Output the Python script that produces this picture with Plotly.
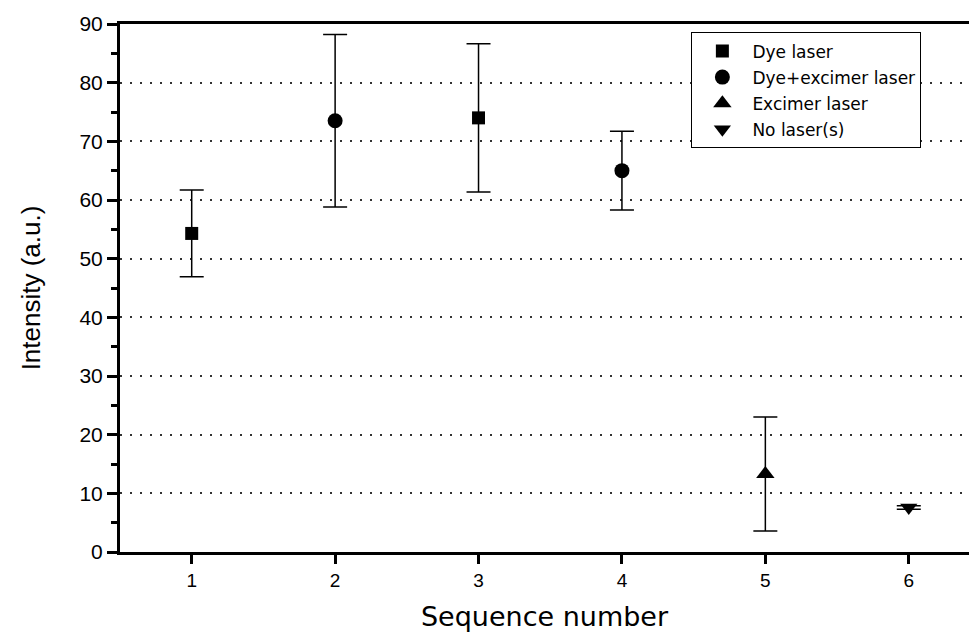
import plotly.graph_objects as go

# Data
seq = [1, 2, 3, 4, 5, 6]
intensity = [54.3, 73.5, 74.0, 65.0, 13.3, 7.6]
err = [7.4, 14.7, 12.65, 6.7, 9.7, 0.3]
condition = ["Dye laser", "Dye+excimer laser", "Dye laser", "Dye+excimer laser",
             "Excimer laser", "No laser(s)"]
series_names = ["Dye laser", "Dye+excimer laser", "Excimer laser", "No laser(s)"]
symbols = {"Dye laser": "square", "Dye+excimer laser": "circle",
           "Excimer laser": "triangle-up", "No laser(s)": "triangle-down"}
sizes = {"Dye laser": 13, "Dye+excimer laser": 15,
         "Excimer laser": 16, "No laser(s)": 15}

y_ticks = list(range(0, 91, 10))

fig = go.Figure()
for name in series_names:
    xs = [s for s, c in zip(seq, condition) if c == name]
    ys = [v for v, c in zip(intensity, condition) if c == name]
    es = [e for e, c in zip(err, condition) if c == name]
    fig.add_trace(go.Scatter(
        x=xs, y=ys, mode="markers", name=name, legendgroup=name,
        marker=dict(symbol=symbols[name], size=sizes[name], color="black"),
        error_y=dict(type="data", array=es, visible=True, color="black",
                     thickness=1.5, width=12),
    ))

font_family = "Liberation Sans, Arial, sans-serif"
wide_family = "DejaVu Sans, Liberation Sans, sans-serif"
fig.update_layout(
    width=969, height=635,
    margin=dict(l=120, r=0, t=24, b=83),
    paper_bgcolor="white", plot_bgcolor="white",
    font=dict(family=font_family, color="black", size=19),
    showlegend=True,
    legend=dict(
        x=0.673, y=0.984, xanchor="left", yanchor="top",
        bgcolor="white", bordercolor="black", borderwidth=1,
        font=dict(size=17, family=wide_family, color="black"),
        tracegroupgap=1, traceorder="grouped",
        itemwidth=50,
    ),
    xaxis=dict(
        range=[0.5, 6.42], tickvals=seq, ticktext=[str(s) for s in seq],
        showgrid=False, zeroline=False,
        showline=True, linecolor="black", linewidth=3, mirror=True,
        ticks="outside", ticklen=9, tickwidth=2.5, tickcolor="black",
        title=dict(text="Sequence number",
                   font=dict(size=27, family=wide_family), standoff=18),
        tickfont=dict(size=19),
    ),
    yaxis=dict(
        range=[0, 90], tickvals=y_ticks,
        showgrid=True, gridcolor="#333333", griddash="2px,8px", gridwidth=1.5,
        zeroline=False,
        showline=True, linecolor="black", linewidth=3, mirror=False,
        ticks="outside", ticklen=10, tickwidth=2.5, tickcolor="black",
        minor=dict(dtick=5, ticks="outside", ticklen=6, tickwidth=2.5,
                   tickcolor="black", showgrid=False),
        title=dict(text="Intensity (a.u.)", font=dict(size=26), standoff=32),
        tickfont=dict(size=21),
    ),
)

fig.write_html("out.html")
